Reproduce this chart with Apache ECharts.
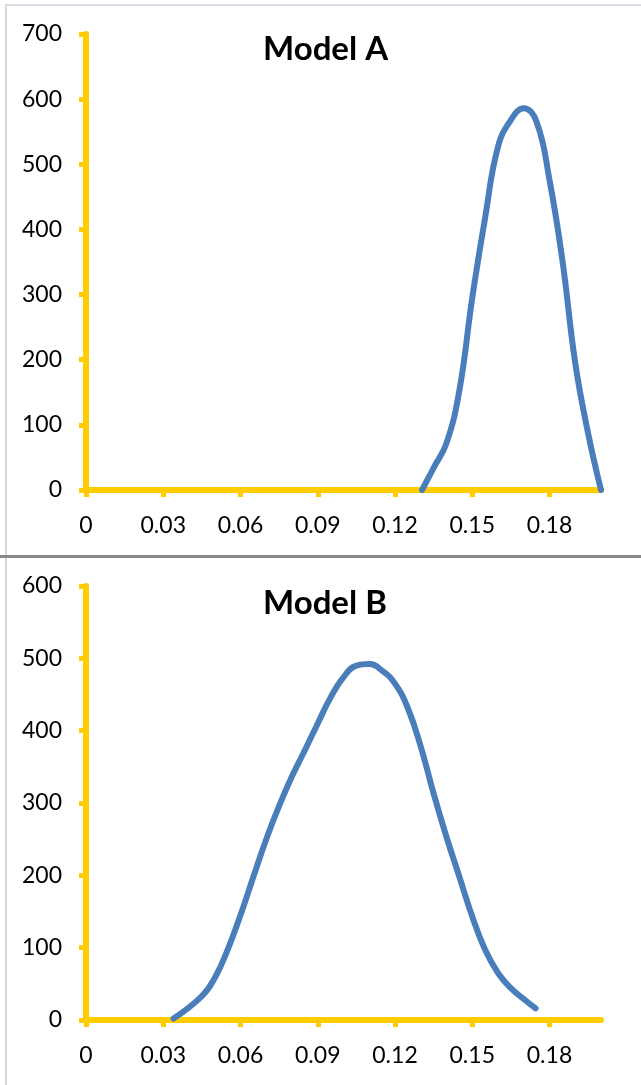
<!DOCTYPE html>
<html>
<head>
<meta charset="utf-8">
<script src="https://cdn.jsdelivr.net/npm/echarts@6/dist/echarts.min.js"></script>
<style>
html,body{margin:0;padding:0;background:#fff;}
#c{width:641px;height:1085px;}
</style>
</head>
<body>
<div id="c"></div>
<script>
// ---- data ----
var titles = ['Model A', 'Model B'];
var xTicks = [0, 0.03, 0.06, 0.09, 0.12, 0.15, 0.18];
var yMaxA = 700;
var yMaxB = 600;
var yStep = 100;

var xA = [0.1305, 0.135, 0.14, 0.145, 0.15, 0.155, 0.16, 0.165, 0.17, 0.175, 0.18, 0.185, 0.19, 0.195, 0.2];
var yA = [0, 34, 72, 153, 295, 418, 527, 568, 586, 565, 476, 353, 195, 87, 0];

var xB = [0.034, 0.045, 0.05, 0.055, 0.06, 0.065, 0.07, 0.075, 0.08, 0.085, 0.09, 0.095, 0.1, 0.105, 0.11, 0.115, 0.12, 0.125, 0.13, 0.135, 0.14, 0.145, 0.15, 0.155, 0.16, 0.165, 0.17, 0.1746];
var yB = [2, 33, 58, 97, 145, 198, 250, 296, 337, 373, 410, 446, 474, 490, 492, 483, 465, 431, 378, 313, 253, 198, 143, 97, 65, 44, 29, 16];

// ---- styles ----
var AXIS = '#FFCC00';
var LINE = '#4A7EBB';
var FONT = 'Lato';

function pairs(xs, ys) { return xs.map(function (x, i) { return [x, ys[i]]; }); }

function xAxisCfg(gi) {
  return {
    gridIndex: gi, type: 'value', min: 0, max: 0.2,
    splitLine: { show: false },
    axisLine: { show: true, onZero: false, lineStyle: { color: AXIS, width: 6 } },
    axisTick: { show: true, customValues: xTicks, length: 7, lineStyle: { color: AXIS, width: 5 } },
    axisLabel: {
      customValues: xTicks, margin: 24, color: '#000', fontFamily: FONT, fontSize: 23,
      formatter: function (v) { return String(Math.round(v * 100) / 100); }
    }
  };
}
function yAxisCfg(gi, mx) {
  return {
    gridIndex: gi, type: 'value', min: 0, max: mx, interval: yStep,
    splitLine: { show: false },
    axisLine: { show: true, lineStyle: { color: AXIS, width: 6 } },
    axisTick: { show: true, length: 7, lineStyle: { color: AXIS, width: 5 } },
    axisLabel: { margin: 24, color: '#000', fontFamily: FONT, fontSize: 23 }
  };
}
function seriesCfg(gi, xs, ys) {
  return {
    type: 'line', xAxisIndex: gi, yAxisIndex: gi, data: pairs(xs, ys),
    smooth: 0.45, showSymbol: false, symbol: 'none',
    lineStyle: { color: LINE, width: 6, cap: 'round', join: 'round' },
    z: 5
  };
}

var chart = echarts.init(document.getElementById('c'), null, { renderer: 'canvas' });
chart.setOption({
  animation: false,
  backgroundColor: '#fff',
  title: [
    { text: titles[0], left: 263, top: 33, padding: 0,
      textStyle: { fontFamily: FONT, fontWeight: 'bold', fontSize: 33, color: '#000' } },
    { text: titles[1], left: 263, top: 587, padding: 0,
      textStyle: { fontFamily: FONT, fontWeight: 'bold', fontSize: 33, color: '#000' } }
  ],
  grid: [
    { left: 86, top: 34, width: 515, height: 456 },
    { left: 86, top: 586, width: 515, height: 434 }
  ],
  xAxis: [xAxisCfg(0), xAxisCfg(1)],
  yAxis: [yAxisCfg(0, yMaxA), yAxisCfg(1, yMaxB)],
  series: [seriesCfg(0, xA, yA), seriesCfg(1, xB, yB)],
  graphic: [
    { type: 'rect', shape: { x: 5, y: 4, width: 640, height: 2 }, style: { fill: '#D9DDE6' }, silent: true },
    { type: 'rect', shape: { x: 5, y: 4, width: 2, height: 1081 }, style: { fill: '#D3D6DC' }, silent: true },
    { type: 'rect', shape: { x: 0, y: 555, width: 641, height: 3 }, style: { fill: '#898989' }, silent: true }
  ]
});
</script>
</body>
</html>
